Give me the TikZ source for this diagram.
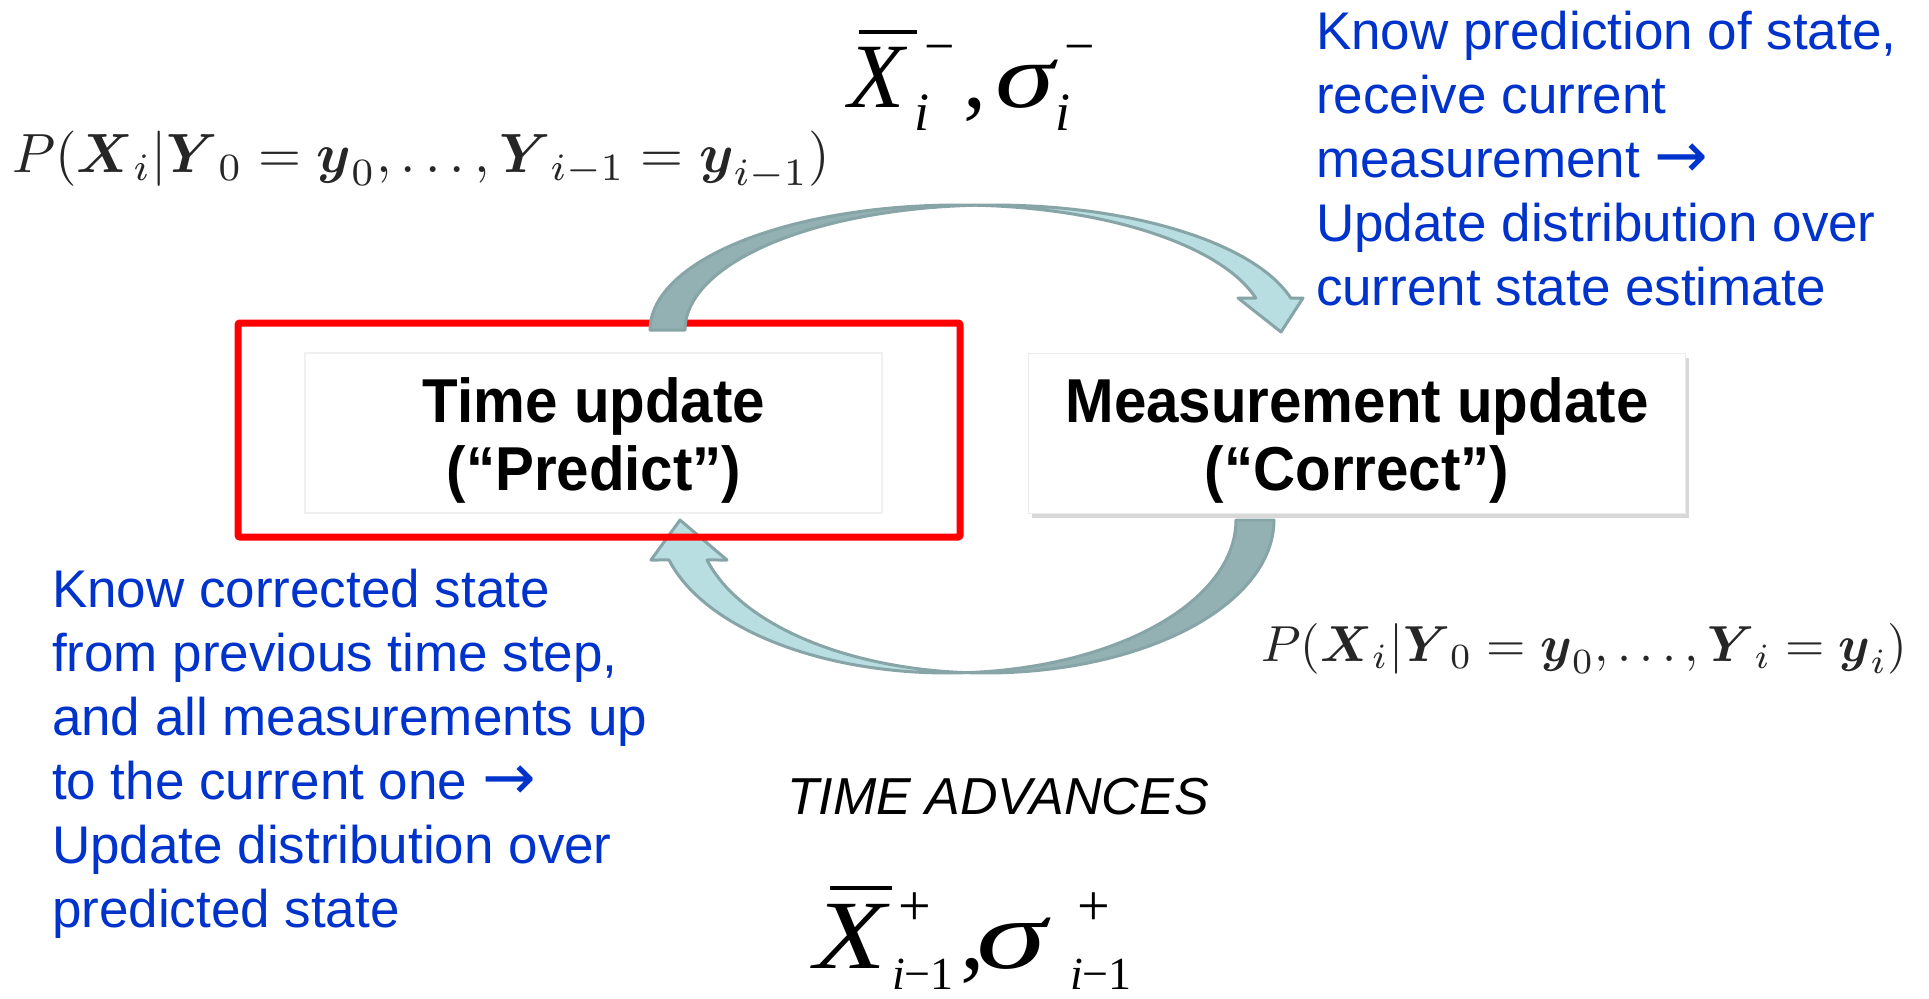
\documentclass[tikz,border=0pt]{standalone}
\usepackage[no-math]{fontspec}
\usepackage{amsmath}
\usepackage{graphicx}
\usetikzlibrary{shadows}
\newfontfamily\arialf{Liberation Sans}
\newfontfamily\arialbc[FakeStretch=0.94]{Liberation Sans}
\newfontfamily\tms{Liberation Serif}
\newfontfamily\djv{DejaVu Sans}
\newcommand\bigarrow{{\djv\fontsize{64}{64}\selectfont →}}
\definecolor{bluetxt}{HTML}{0033CC}
\definecolor{arrdark}{HTML}{93B1B3}
\definecolor{arrlight}{HTML}{B8DEE1}
\definecolor{arredge}{HTML}{87A4A7}
\definecolor{redbox}{HTML}{FF0000}
\begin{document}
\begin{tikzpicture}[x=1pt,y=-1pt,
  every node/.style={inner sep=0pt, outer sep=0pt},
  bluetext/.style={text=bluetxt, font=\arialf\fontsize{53}{64}\selectfont, align=left, anchor=base west},
  boxtitle/.style={font=\arialbc\bfseries\fontsize{62}{68}\selectfont, align=center},
  eqbig/.style={font=\tms\fontsize{92}{92}\selectfont, anchor=base west},
  eqbigb/.style={font=\tms\fontsize{98}{98}\selectfont, anchor=base west},
  eqsmall/.style={font=\tms\fontsize{54}{54}\selectfont},
  eqsub/.style={font=\tms\fontsize{46}{46}\selectfont, anchor=base west},
  probeq/.style={text=black!85, anchor=base west},
  arrowdark/.style={fill=arrdark, draw=arredge, line width=3pt, line join=round},
  arrowlight/.style={fill=arrlight, draw=arredge, line width=3pt, line join=round},
  barline/.style={line width=3.5pt}
]
\fill[white] (0,0) rectangle (1929,998);
\useasboundingbox (0,0) rectangle (1929,998);

% boxes
\node[draw=black!6, line width=2pt, minimum width=577pt, minimum height=160pt] (timebox) at (593.5,433) {};
\node[fill=white, draw=black!8, line width=1pt, minimum width=657pt, minimum height=160pt,
      drop shadow={shadow xshift=4pt, shadow yshift=-5pt, opacity=0.3}] (measbox) at (1356.5,433) {};

% bottom arrow (Correct -> Predict)
\filldraw[arrowdark] plot[domain=0:93.78,samples=40,variable=\t] ({985.5+288.5*cos(\t)},{520+153*sin(\t)})
  -- plot[domain=86.22:0,samples=40,variable=\t] ({947.5+288.5*cos(\t)},{520+153*sin(\t)}) -- cycle;
\filldraw[arrowlight] plot[domain=93.78:164.85,samples=40,variable=\t] ({985.5+288.5*cos(\t)},{520+153*sin(\t)})
  -- (727,560) -- (680,520) -- (651,560)
  -- plot[domain=164.85:86.22,samples=40,variable=\t] ({947.5+288.5*cos(\t)},{520+153*sin(\t)}) -- cycle;

% red highlight box
\node[draw=redbox, line width=7pt, rounded corners=2pt, minimum width=722pt, minimum height=214pt] (predbox) at (599,430) {};

% top arrow (Predict -> Correct)
\filldraw[arrowdark] plot[domain=180:86.74,samples=40,variable=\t] ({958+308*cos(\t)},{330-125*sin(\t)})
  -- plot[domain=93.26:180,samples=40,variable=\t] ({993+308*cos(\t)},{330-125*sin(\t)}) -- cycle;
\filldraw[arrowlight] plot[domain=86.74:14.83,samples=40,variable=\t] ({958+308*cos(\t)},{330-125*sin(\t)})
  -- (1238,298) -- (1281,332) -- (1303,298)
  -- plot[domain=14.83:93.26,samples=40,variable=\t] ({993+308*cos(\t)},{330-125*sin(\t)}) -- cycle;

% box titles
\node[boxtitle] (timetext) at (594,440) {Time update\\(“Predict”)};
\node[boxtitle] (meastext) at (1357,440) {Measurement update\\(“Correct”)};

% blue explanations (anchor = baseline of last line)
\node[bluetext] (measnote) at (1316,305) {Know prediction of state,\\receive current\\measurement \bigarrow\\Update distribution over\\current state estimate};
\node[bluetext] (prednote) at (52,927) {Know corrected state\\from previous time step,\\and all measurements up\\to the current one \bigarrow\\Update distribution over\\predicted state};

% time advances
\node[font=\arialf\itshape\fontsize{52}{52}\selectfont, anchor=base west] (timeadv) at (787,814) {TIME ADVANCES};

% probability formulas
\node[probeq] (priorP) at (12,172) {\resizebox{818pt}{!}{$P(\boldsymbol{X}_i|\boldsymbol{Y}_0=\boldsymbol{y}_0,\ldots,\boldsymbol{Y}_{i-1}=\boldsymbol{y}_{i-1})$}};
\node[probeq] (postP) at (1261,661) {\resizebox{646pt}{!}{$P(\boldsymbol{X}_i|\boldsymbol{Y}_0=\boldsymbol{y}_0,\ldots,\boldsymbol{Y}_i=\boldsymbol{y}_i)$}};

% top estimate X-bar_i^-, sigma_i^-
\node[eqbig] (tX) at (848,107) {\itshape X};
\draw[barline] (859,32) -- (917,32);
\node[eqsmall, anchor=base] (tXsup) at (940,65) {−};
\node[eqsmall, anchor=base west] (tXsub) at (914,130) {\itshape i};
\node[eqbig] (tcomma) at (963,107) {,};
\node[eqbig] (tS) at (995,107) {\scalebox{1.3}[1]{\itshape σ}};
\node[eqsmall, anchor=base] (tSsup) at (1080,65) {−};
\node[eqsmall, anchor=base west] (tSsub) at (1055,130) {\itshape i};

% bottom estimate X-bar_{i-1}^+, sigma_{i-1}^+
\node[eqbigb] (bX) at (814,968) {\scalebox{1.2}[1]{\itshape X}};
\draw[barline] (830,888) -- (892,888);
\node[eqsmall, font=\tms\fontsize{58}{58}\selectfont, anchor=base] (bXsup) at (915,925) {+};
\node[eqsub] (bXsub) at (892,989) {{\itshape i}−1};
\node[eqbigb] (bcomma) at (960,968) {,};
\node[eqbigb] (bS) at (976,968) {\scalebox{1.45}[1]{\itshape σ}};
\node[eqsmall, font=\tms\fontsize{58}{58}\selectfont, anchor=base] (bSsup) at (1094,925) {+};
\node[eqsub] (bSsub) at (1070,989) {{\itshape i}−1};
\end{tikzpicture}
\end{document}
